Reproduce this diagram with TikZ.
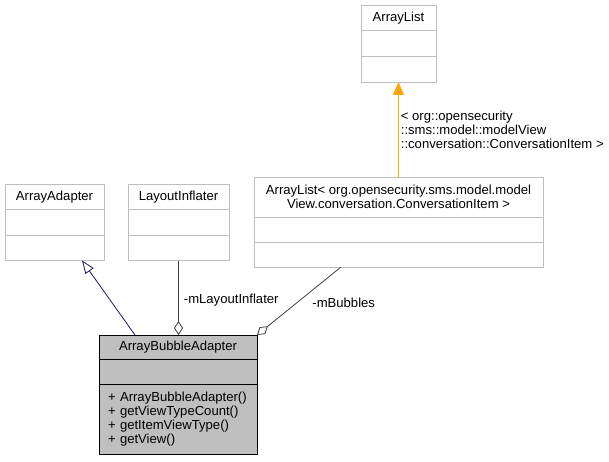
\documentclass[tikz,border=0pt]{standalone}
\usepackage{fontspec}
\setmainfont{Liberation Sans}
\usepackage{tikz}
\usetikzlibrary{positioning,arrows.meta}
\definecolor{boxgray}{RGB}{191,191,191}
\definecolor{edgegray}{RGB}{64,64,64}
\definecolor{navy}{RGB}{25,25,112}
\definecolor{tmplorange}{RGB}{255,165,0}
\tikzset{
  cls/.style={draw=boxgray, fill=white, line width=0.8pt, inner sep=0pt, outer sep=0pt,
    minimum height=25.5pt, font=\fontsize{13.1}{14}\selectfont},
  main/.style={cls, draw=black, fill=boxgray},
  inherit/.style={draw=navy, line width=0.8pt, -{Triangle[open, length=13pt, width=10pt]}},
  aggr/.style={draw=edgegray, line width=0.8pt, -{Diamond[open, length=14pt, width=9pt]}},
  tmpl/.style={draw=tmplorange, line width=0.8pt, -{Triangle[length=13pt, width=11pt]}},
  lbl/.style={font=\fontsize{13.1}{14}\selectfont, inner sep=0pt}
}
\begin{document}
\begin{tikzpicture}[x=1pt, y=1pt]
  \useasboundingbox (0,0) rectangle (609,461);
  % ArrayList
  \node[cls, minimum width=75pt, anchor=north] (AL) at (398.5,456) {ArrayList};
  \node[cls, minimum width=75pt, minimum height=26pt, below=0pt of AL] (ALa) {};
  \node[cls, minimum width=75pt, below=0pt of ALa] (ALo) {};
  % ArrayAdapter
  \node[cls, minimum width=99pt, anchor=north] (AA) at (54.5,277) {ArrayAdapter};
  \node[cls, minimum width=99pt, below=0pt of AA] (AAa) {};
  \node[cls, minimum width=99pt, below=0pt of AAa] (AAo) {};
  % LayoutInflater
  \node[cls, minimum width=101pt, anchor=north] (LI) at (178.5,277) {LayoutInflater};
  \node[cls, minimum width=101pt, below=0pt of LI] (LIa) {};
  \node[cls, minimum width=101pt, below=0pt of LIa] (LIo) {};
  % ArrayList< ... >
  \node[cls, minimum width=289pt, minimum height=40pt, align=center, anchor=north] (ALC) at (398.5,284)
    {ArrayList< org.opensecurity.sms.model.model\\View.conversation.ConversationItem >};
  \node[cls, minimum width=289pt, minimum height=25pt, below=0pt of ALC] (ALCa) {};
  \node[cls, minimum width=289pt, minimum height=25pt, below=0pt of ALCa] (ALCo) {};
  % ArrayBubbleAdapter
  \node[main, minimum width=158pt, minimum height=24.5pt, anchor=north] (ABA) at (178,126) {ArrayBubbleAdapter};
  \node[main, minimum width=158pt, minimum height=25pt, below=0pt of ABA] (ABAa) {};
  \node[main, minimum width=158pt, minimum height=70pt, text width=140pt, align=left, below=0pt of ABAa] (ABAo)
    {+ ArrayBubbleAdapter()\\+ getViewTypeCount()\\+ getItemViewType()\\+ getView()};
  \draw[inherit] ([xshift=-43pt]ABA.north) -- ([xshift=27.5pt]AAo.south);
  \draw[aggr] (LIo.south) -- (LIo.south |- ABA.north)
    node[lbl, midway, anchor=west, xshift=5pt, yshift=-2pt] {-mLayoutInflater};
  \draw[aggr] ([xshift=-57.5pt]ALCo.south) -- (ABA.north east)
    node[lbl, pos=0.5, anchor=west, xshift=13pt, yshift=-2pt] {-mBubbles};
  \draw[tmpl] (ALC.north) -- (ALo.south)
    node[lbl, midway, anchor=west, xshift=2pt, align=left] {< org::opensecurity\\::sms::model::modelView\\::conversation::ConversationItem >};
\end{tikzpicture}
\end{document}
